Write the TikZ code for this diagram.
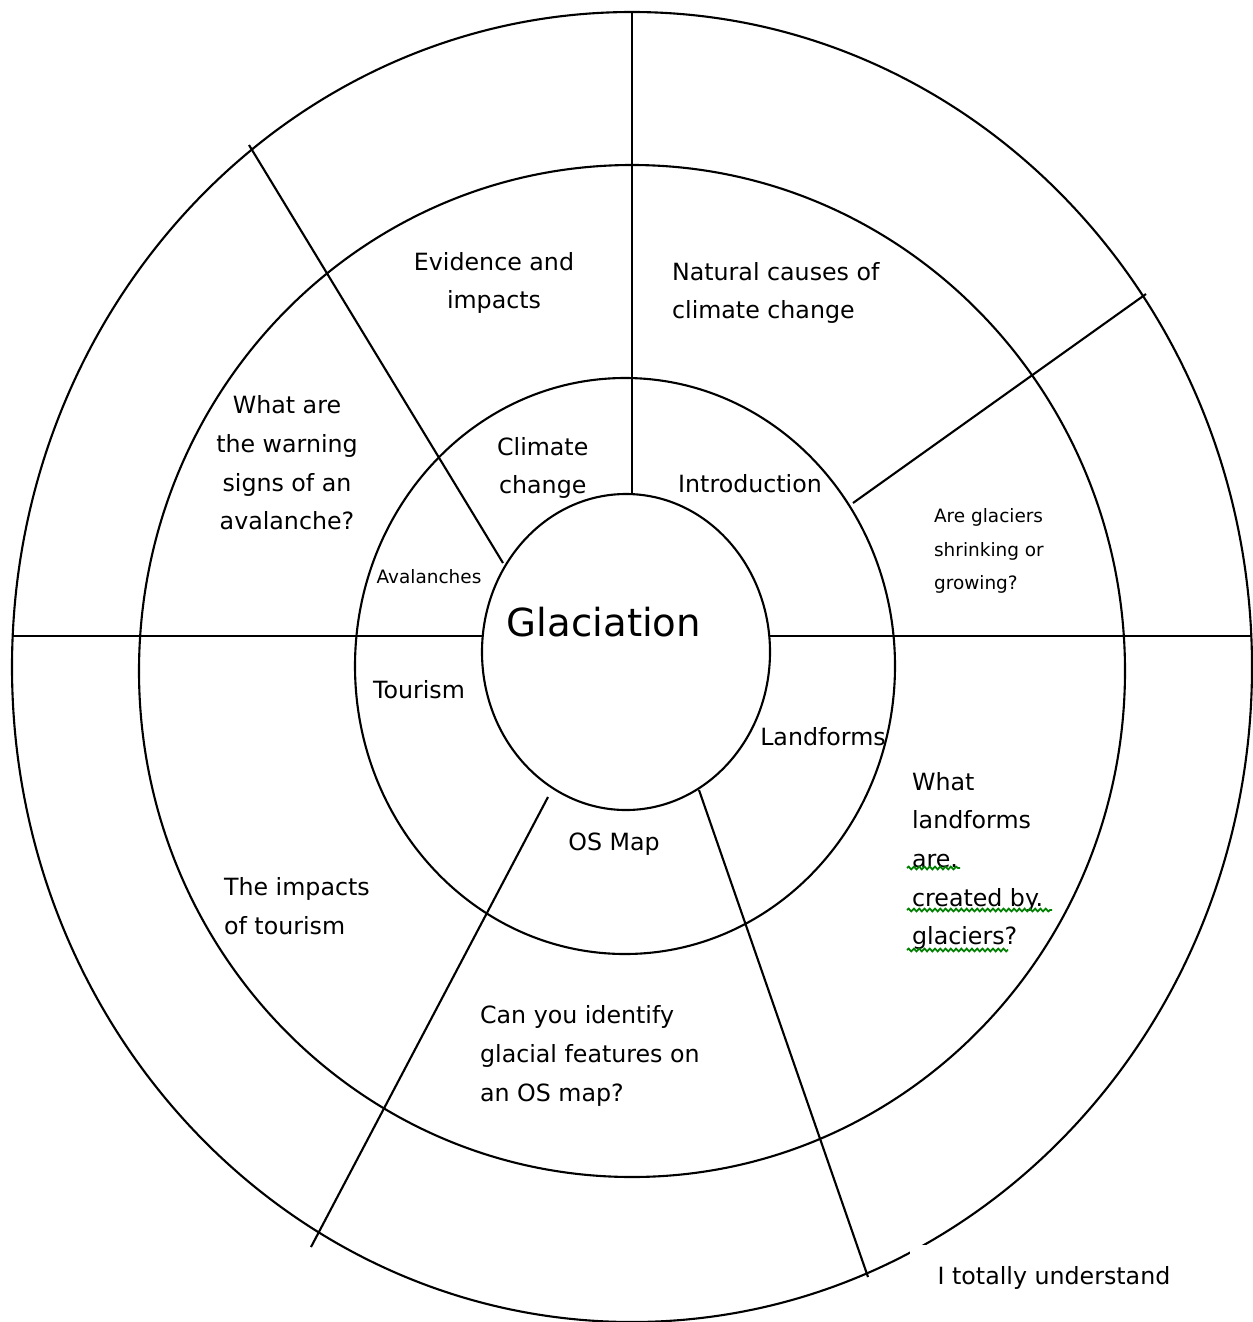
\documentclass[tikz,border=0pt]{standalone}
\usepackage{fontspec}
\setmainfont{DejaVu Sans}
\usetikzlibrary{decorations.pathmorphing}

\begin{document}
\begin{tikzpicture}[
    x=0.02cm, y=-0.02cm,
    ring/.style={draw=black, line width=1.2pt},
    divider/.style={draw=black, line width=1.2pt},
    topic/.style={font=\fontsize{13.5}{22}\selectfont, align=center, inner sep=1pt},
    small_topic/.style={font=\fontsize{10.5}{19}\selectfont, align=left, inner sep=1pt},
    hub/.style={font=\fontsize{22}{26}\selectfont, inner sep=1pt},
    squiggle/.style={draw=green!50!black, line width=1pt, decorate, decoration={snake, amplitude=0.8pt, segment length=3pt}}
]
\useasboundingbox (0,0) rectangle (1252,1322);

% Rings, outside in
\draw[ring] (632,667) ellipse [x radius=620, y radius=655];
\draw[ring] (632,671) ellipse [x radius=493, y radius=506];
\draw[ring] (625,666) ellipse [x radius=270, y radius=288];
\draw[ring] (626,652) ellipse [x radius=144, y radius=158];

% Dividers
\draw[divider] (12,636) -- (483,636);
\draw[divider] (770,636) -- (1252,636);
\draw[divider] (632,12) -- (632,494);
\draw[divider] (249,145) -- (503,563);
\draw[divider] (1146,294) -- (853,503);
\draw[divider] (548,797) -- (311,1247);
\draw[divider] (699,790) -- (868,1277);

% Centre
\node[hub] (glaciation) at (604,622) {Glaciation};

% Inner ring
\node[topic, anchor=west] (climate) at (495,468) {Climate\\change};
\node[topic] (intro) at (750,484) {Introduction};
\node[small_topic] (avalanches) at (429,577) {Avalanches};
\node[topic] (tourism) at (419,690) {Tourism};
\node[topic] (landforms) at (823,737) {Landforms};
\node[topic] (osmap) at (614,844) {OS Map};

% Outer ring
\node[topic] (evidence) at (494,283) {Evidence and\\impacts};
\node[topic, align=left, anchor=west] (natural) at (670,293) {Natural causes of\\climate change};
\node[topic] (warning) at (287,463) {What are\\the warning\\signs of an\\avalanche?};
\node[small_topic, anchor=west] (shrinking) at (932,551) {Are glaciers\\shrinking or\\growing?};
\node[topic, align=left, anchor=west] (what_landforms) at (910,861) {What\\landforms\\are.\\created by.\\glaciers?};
\node[topic, align=left, anchor=west] (impacts) at (222,906) {The impacts\\of tourism};
\node[topic, align=left, anchor=west] (identify) at (478,1056) {Can you identify\\glacial features on\\an OS map?};

% Key
\node[topic, fill=white, inner xsep=16pt, inner ysep=12.5pt] (key) at (1054,1278) {I totally understand};

% Spelling marks
\draw[squiggle] (907,868) -- (960,868);
\draw[squiggle] (907,910) -- (1052,910);
\draw[squiggle] (907,950) -- (1008,950);

\end{tikzpicture}
\end{document}
